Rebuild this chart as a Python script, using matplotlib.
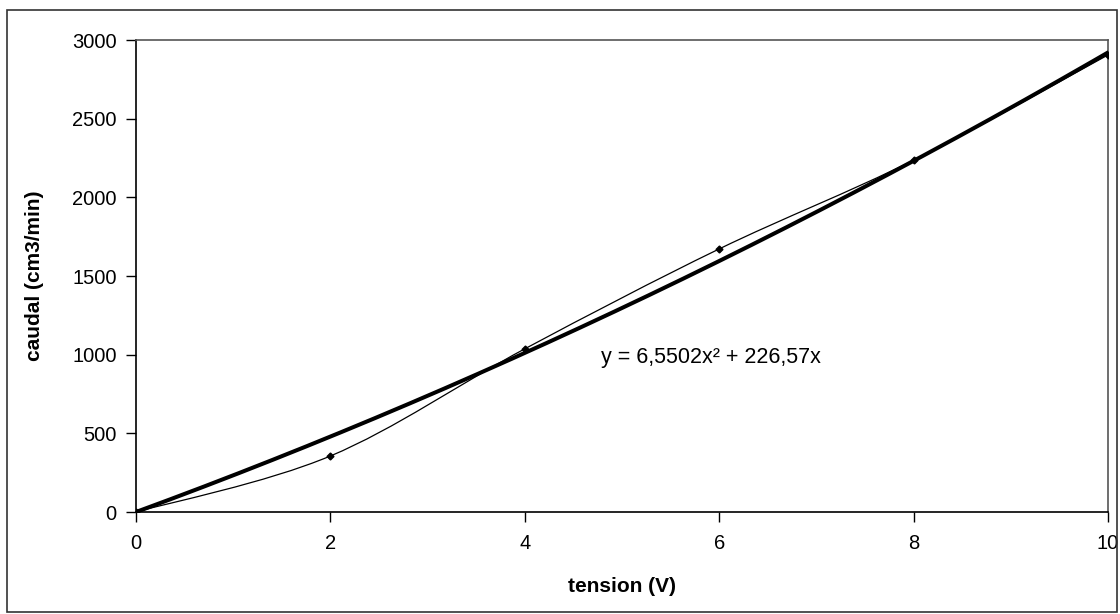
import numpy as np
import matplotlib
matplotlib.use("Agg")
import matplotlib.pyplot as plt
from matplotlib.path import Path
from matplotlib.patches import PathPatch, Rectangle

plt.rcParams['font.family'] = ['Liberation Sans', 'DejaVu Sans']

# Data
tension = [0, 2, 4, 6, 8, 10]
caudal = [0, 356, 1037, 1672, 2236, 2905]
trend_a = 6.5502
trend_b = 226.57
x_ticks = [0, 2, 4, 6, 8, 10]
y_ticks = [0, 500, 1000, 1500, 2000, 2500, 3000]
equation = "y = 6,5502x² + 226,57x"

W, H = 1120, 614
fig = plt.figure(figsize=(W / 100, H / 100), dpi=100)
ax = fig.add_axes([136 / W, 1 - 512 / H, (1108 - 136) / W, (512 - 40) / H])

# outer chart border
fig.patches.append(Rectangle((7 / W, 1 - 612 / H), (1117 - 7) / W, (612 - 10) / H,
                             transform=fig.transFigure, fill=False,
                             edgecolor='#333333', linewidth=1.2))

# trendline
xs = np.linspace(0, 10, 200)
ax.plot(xs, trend_a * xs ** 2 + trend_b * xs, color='black', linewidth=2.9,
        solid_capstyle='round', zorder=3)

# smoothed line through points (Bezier, Excel-style)
pts = np.column_stack([tension, caudal]).astype(float)
n = len(pts)
verts = [pts[0]]
codes = [Path.MOVETO]
for i in range(n - 1):
    p_prev = pts[max(i - 1, 0)]
    p0 = pts[i]
    p1 = pts[i + 1]
    p_next = pts[min(i + 2, n - 1)]
    c1 = p0 + (p1 - p_prev) / 6.0
    c2 = p1 - (p_next - p0) / 6.0
    verts += [c1, c2, p1]
    codes += [Path.CURVE4] * 3
ax.add_patch(PathPatch(Path(verts, codes), facecolor='none', edgecolor='black',
                       linewidth=0.9, zorder=4))
ax.plot(tension, caudal, linestyle='none', marker='D', markersize=3.5,
        color='black', zorder=5)

ax.text(4.78, 985, equation, fontsize=15.5, va='center', ha='left')

ax.set_xlim(0, 10)
ax.set_ylim(0, 3000)
ax.set_xticks(x_ticks)
ax.set_yticks(y_ticks)
ax.tick_params(axis='both', direction='out', length=7, width=1, labelsize=14.5,
               colors='black', pad=7)
ax.tick_params(axis='x', pad=9)
for s in ['left', 'bottom']:
    ax.spines[s].set_color('black')
    ax.spines[s].set_linewidth(1.2)
for s in ['top', 'right']:
    ax.spines[s].set_color('#555555')
    ax.spines[s].set_linewidth(1.2)

ax.set_xlabel('tension (V)', fontsize=15, fontweight='bold', labelpad=17)
ax.set_ylabel('caudal (cm3/min)', fontsize=15, fontweight='bold', labelpad=20)

fig.savefig('out.png', dpi=100)
